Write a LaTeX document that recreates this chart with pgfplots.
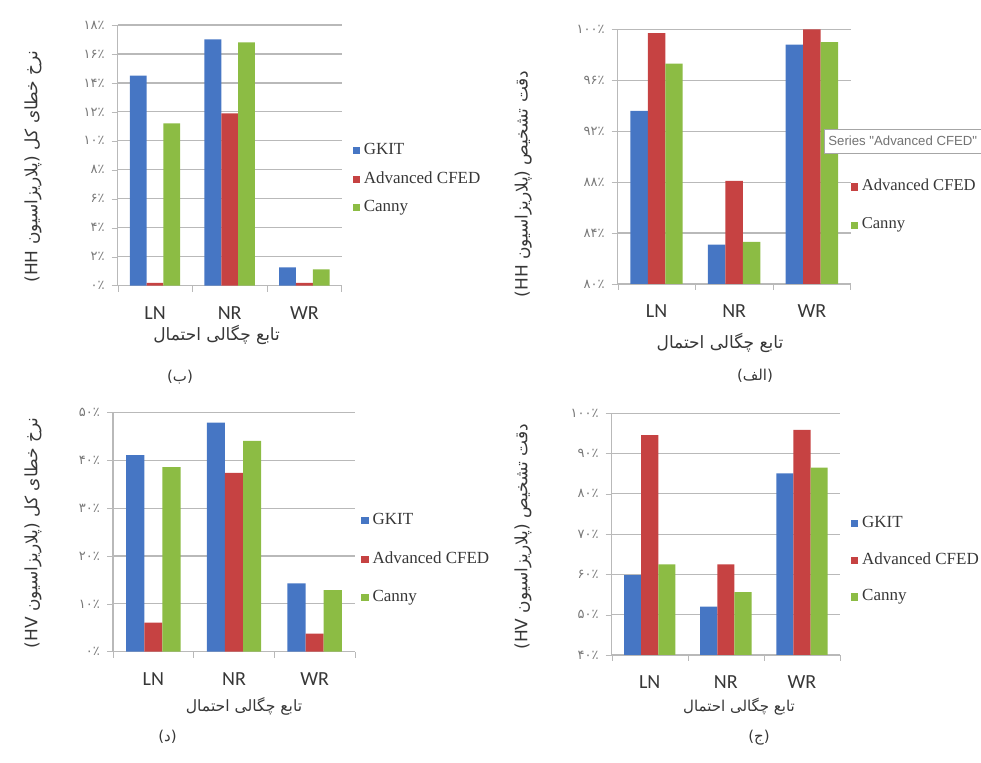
\documentclass[border=0pt]{standalone}
\usepackage{fontspec}
\usepackage{pgfplots}
\pgfplotsset{compat=1.18}
\setmainfont{Liberation Serif}
\newfontfamily\arabicfont[Script=Arabic]{DejaVu Sans}
\newfontfamily\dvs{DejaVu Sans}
\newfontfamily\calib{Carlito}
\newfontfamily\tipfont{Liberation Sans}
\TeXXeTstate=1
\definecolor{cB}{RGB}{70,118,196}
\definecolor{cR}{RGB}{198,66,66}
\definecolor{cG}{RGB}{140,188,68}
\definecolor{txt}{RGB}{55,55,55}
\definecolor{tk}{RGB}{120,120,120}
\definecolor{gridc}{RGB}{185,185,185}
\newcommand{\lp}{{\dvs(}}
\newcommand{\rp}{{\dvs)}}

\pgfplotsset{
  excel/.style={
    scale only axis,
    ybar=0pt,
    bar width=0.225,
    xmin=-0.5, xmax=2.5,
    xtick={0,1,2}, xticklabels={LN,NR,WR},
    minor xtick={-0.5,0.5,1.5,2.5},
    major x tick style={draw=none},
    minor x tick style={draw=gridc},
    y tick style={draw=gridc},
    tick align=outside,
    major tick length=3pt, minor tick length=3pt,
    axis x line*=bottom, axis y line*=left,
    axis line style={draw=gridc, line width=0.6pt},
    ymajorgrids, grid style={gridc, line width=0.6pt},
    xticklabel style={font=\calib\fontsize{10}{12}\selectfont, text=txt, yshift=-4pt},
    yticklabel style={font=\arabicfont\fontsize{6.5}{8}\selectfont, text=tk},
    legend cell align=left,
    legend style={draw=none, fill=none, font=\fontsize{8.5}{10}\selectfont, text=txt, anchor=west},
  },
  sq/.style={legend image code/.code={\fill[##1] (0pt,-2pt) rectangle (3.6pt,1.6pt);}},
}

\begin{document}
\begin{tikzpicture}
\path[use as bounding box] (0,0) rectangle (490.5pt,381.5pt);

% ---------- top-left (b) ----------
\begin{axis}[excel, at={(58.85pt,238.65pt)}, anchor=south west,
  width=112pt, height=130.35pt,
  ymin=0, ymax=18, ytick={0,2,...,18},
  yticklabels={۰٪,۲٪,۴٪,۶٪,۸٪,۱۰٪,۱۲٪,۱۴٪,۱۶٪,۱۸٪},
  legend style={at={(axis description cs:1.02,0.41)}, row sep=3pt}]
\addplot[fill=cB, draw=none, sq] coordinates {(0,14.5) (1,17.0) (2,1.27)};
\addplot[fill=cR, draw=none, sq] coordinates {(0,0.2) (1,11.9) (2,0.2)};
\addplot[fill=cG, draw=none, sq] coordinates {(0,11.2) (1,16.8) (2,1.13)};
\legend{GKIT,Advanced CFED,Canny}
\end{axis}

% ---------- top-right (alef) ----------
\begin{axis}[excel, at={(308.85pt,239.5pt)}, anchor=south west,
  width=116.5pt, height=127.35pt,
  ymin=80, ymax=100, ytick={80,84,...,100},
  yticklabels={۸۰٪,۸۴٪,۸۸٪,۹۲٪,۹۶٪,۱۰۰٪},
  legend style={at={(axis description cs:0.972,0.382)}, row sep=8pt, font=\fontsize{8.3}{10}\selectfont}]
\addplot[fill=cB, draw=none, sq] coordinates {(0,93.6) (1,83.1) (2,98.8)};
\addplot[fill=cR, draw=none, sq] coordinates {(0,99.7) (1,88.1) (2,100)};
\addplot[fill=cG, draw=none, sq] coordinates {(0,97.3) (1,83.3) (2,99.0)};
\legend{GKIT,Advanced CFED,Canny}
\end{axis}

% ---------- bottom-left (d) ----------
\begin{axis}[excel, at={(56.5pt,55.65pt)}, anchor=south west,
  width=121pt, height=119.5pt,
  ymin=0, ymax=50, ytick={0,10,...,50},
  yticklabels={۰٪,۱۰٪,۲۰٪,۳۰٪,۴۰٪,۵۰٪},
  legend style={at={(axis description cs:1.0,0.388)}, row sep=8pt}]
\addplot[fill=cB, draw=none, sq] coordinates {(0,41.1) (1,47.9) (2,14.3)};
\addplot[fill=cR, draw=none, sq] coordinates {(0,6.1) (1,37.4) (2,3.8)};
\addplot[fill=cG, draw=none, sq] coordinates {(0,38.6) (1,44.1) (2,12.9)};
\legend{GKIT,Advanced CFED,Canny}
\end{axis}

% ---------- bottom-right (j) ----------
\begin{axis}[excel, at={(305.85pt,54pt)}, anchor=south west,
  width=114.15pt, height=120.85pt,
  ymin=40, ymax=100, ytick={40,50,...,100},
  yticklabels={۴۰٪,۵۰٪,۶۰٪,۷۰٪,۸۰٪,۹۰٪,۱۰۰٪},
  legend style={at={(axis description cs:1.02,0.393)}, row sep=7pt}]
\addplot[fill=cB, draw=none, sq] coordinates {(0,59.8) (1,52.0) (2,85.1)};
\addplot[fill=cR, draw=none, sq] coordinates {(0,94.6) (1,62.5) (2,95.9)};
\addplot[fill=cG, draw=none, sq] coordinates {(0,62.5) (1,55.6) (2,86.5)};
\legend{GKIT,Advanced CFED,Canny}
\end{axis}

% tooltip
\filldraw[fill=white, draw=gray!70] (412pt,317pt) rectangle (495pt,305pt);
\node[anchor=west, inner sep=0pt, font=\tipfont\fontsize{6.6}{8}\selectfont, text=gray!90!black] at (414pt,311pt) {Series "Advanced CFED"};

% y labels
\begin{scope}[every node/.style={font=\arabicfont\fontsize{8.5}{10}\selectfont, text=txt, rotate=90, inner sep=0pt}]
\node at (16.5pt,298.25pt) {\lp HH \beginR پلاریزاسیون\endR\rp{} \beginR نرخ خطای کل\endR};
\node at (261.65pt,289.5pt) {\lp HH \beginR پلاریزاسیون\endR\rp{} \beginR دقت تشخیص\endR};
\node at (16.5pt,115pt) {\lp HV \beginR پلاریزاسیون\endR\rp{} \beginR نرخ خطای کل\endR};
\node at (261.5pt,113.15pt) {\lp HV \beginR پلاریزاسیون\endR\rp{} \beginR دقت تشخیص\endR};
\end{scope}

% x labels and captions
\begin{scope}[every node/.style={text=txt, inner sep=0pt}]
\node[font=\arabicfont\fontsize{8.5}{10}\selectfont] at (108.3pt,214pt) {\beginR تابع چگالی احتمال\endR};
\node[font=\arabicfont\fontsize{8.5}{10}\selectfont] at (360pt,210pt) {\beginR تابع چگالی احتمال\endR};
\node[font=\arabicfont\fontsize{7.8}{10}\selectfont] at (122pt,28.15pt) {\beginR تابع چگالی احتمال\endR};
\node[font=\arabicfont\fontsize{7.5}{10}\selectfont] at (369.5pt,28.15pt) {\beginR تابع چگالی احتمال\endR};
\end{scope}
\begin{scope}[every node/.style={font=\arabicfont\fontsize{7.5}{9}\selectfont, text=txt, inner sep=0pt}]
\node at (90pt,193.15pt) {\lp\beginR ب\endR\rp};
\node at (377.5pt,193.65pt) {\lp\beginR الف\endR\rp};
\node at (83.75pt,13.15pt) {\lp\beginR د\endR\rp};
\node at (379.5pt,12.5pt) {\lp\beginR ج\endR\rp};
\end{scope}
\end{tikzpicture}
\end{document}
